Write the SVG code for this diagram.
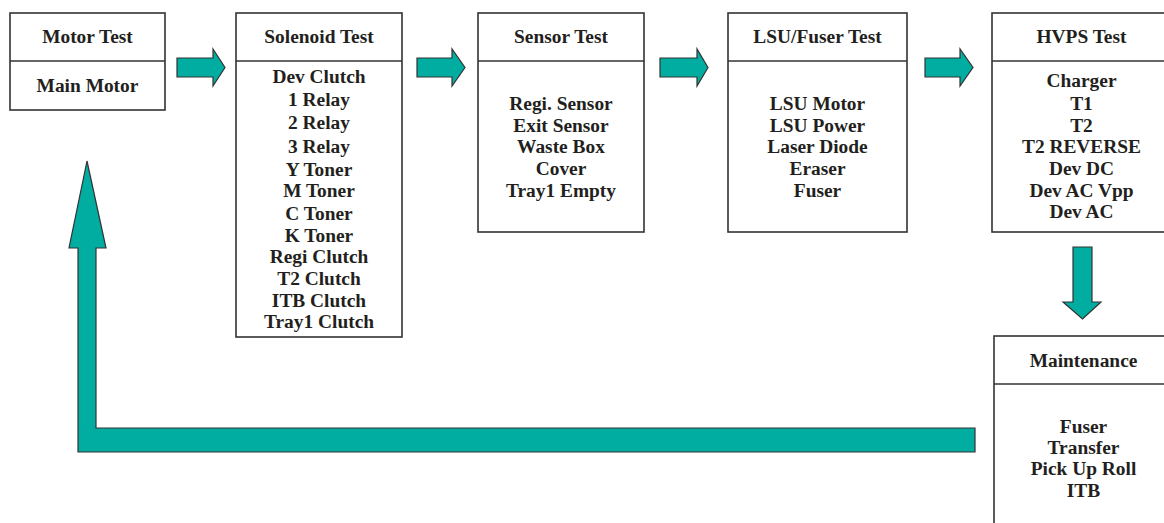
<svg xmlns="http://www.w3.org/2000/svg" width="1164" height="523" viewBox="0 0 1164 523">
<style>
.box{fill:#fff;stroke:#333;stroke-width:1.6}
.div{stroke:#333;stroke-width:1.6}
.t{font-family:"Liberation Serif","Times New Roman",serif;font-weight:bold;font-size:19.4px;fill:#231f20;text-anchor:middle}
.arr{fill:#00ada0;stroke:#333;stroke-width:1.2;stroke-linejoin:miter}
</style>
<rect width="1164" height="523" fill="#fff"/>
<g id="connectors">
<polygon class="arr" points="177,58 213,58 213,49 225,67.5 213,86 213,77 177,77"/>
<polygon class="arr" points="417,58 452,58 452,49 465,67.5 452,86 452,77 417,77"/>
<polygon class="arr" points="660,58 697,58 697,49 708,67.5 697,86 697,77 660,77"/>
<polygon class="arr" points="925,58 960,58 960,49 973,67.5 960,86 960,77 925,77"/>
<polygon class="arr" points="1073,247 1092,247 1092,302 1101,302 1082.5,319 1063,302 1073,302"/>
<polygon class="arr" points="975,428 975,452 78,452 78,248 69,248 87,161 106,248 96,248 96,428"/>
</g>
<g id="motor">
<rect class="box" x="10" y="13" width="155" height="97"/>
<line class="div" x1="10" y1="61" x2="165" y2="61"/>
<text class="t" x="87.5" y="43.3">Motor Test</text>
<text class="t" x="87.5" y="91.7">Main Motor</text>
</g>
<g id="solenoid">
<rect class="box" x="236" y="13" width="166" height="324"/>
<line class="div" x1="236" y1="61" x2="402" y2="61"/>
<text class="t" x="319" y="43.3">Solenoid Test</text>
<text class="t" x="319" y="83">Dev Clutch</text>
<text class="t" x="319" y="106">1 Relay</text>
<text class="t" x="319" y="129">2 Relay</text>
<text class="t" x="319" y="152.5">3 Relay</text>
<text class="t" x="319" y="175.5">Y Toner</text>
<text class="t" x="319" y="197">M Toner</text>
<text class="t" x="319" y="219.5">C Toner</text>
<text class="t" x="319" y="241.5">K Toner</text>
<text class="t" x="319" y="263">Regi Clutch</text>
<text class="t" x="319" y="285">T2 Clutch</text>
<text class="t" x="319" y="306.5">ITB Clutch</text>
<text class="t" x="319" y="327.5">Tray1 Clutch</text>
</g>
<g id="sensor">
<rect class="box" x="478" y="13" width="166" height="219"/>
<line class="div" x1="478" y1="61" x2="644" y2="61"/>
<text class="t" x="561" y="43.3">Sensor Test</text>
<text class="t" x="561" y="110">Regi. Sensor</text>
<text class="t" x="561" y="131.7">Exit Sensor</text>
<text class="t" x="561" y="153">Waste Box</text>
<text class="t" x="561" y="174.5">Cover</text>
<text class="t" x="561" y="196.5">Tray1 Empty</text>
</g>
<g id="lsu">
<rect class="box" x="728" y="13" width="179" height="219"/>
<line class="div" x1="728" y1="61" x2="907" y2="61"/>
<text class="t" x="817.5" y="43.3">LSU/Fuser Test</text>
<text class="t" x="817.5" y="110">LSU Motor</text>
<text class="t" x="817.5" y="131.7">LSU Power</text>
<text class="t" x="817.5" y="153">Laser Diode</text>
<text class="t" x="817.5" y="174.5">Eraser</text>
<text class="t" x="817.5" y="196.5">Fuser</text>
</g>
<g id="hvps">
<rect class="box" x="992" y="13" width="180" height="219"/>
<line class="div" x1="992" y1="61" x2="1172" y2="61"/>
<text class="t" x="1081.5" y="43.3">HVPS Test</text>
<text class="t" x="1081.5" y="87.3">Charger</text>
<text class="t" x="1081.5" y="110">T1</text>
<text class="t" x="1081.5" y="131.7">T2</text>
<text class="t" x="1081.5" y="152.7">T2 REVERSE</text>
<text class="t" x="1081.5" y="175">Dev DC</text>
<text class="t" x="1081.5" y="196.7">Dev AC Vpp</text>
<text class="t" x="1081.5" y="217.5">Dev AC</text>
</g>
<g id="maintenance">
<rect class="box" x="994" y="336" width="180" height="200"/>
<line class="div" x1="994" y1="384" x2="1174" y2="384"/>
<text class="t" x="1083.5" y="366.7">Maintenance</text>
<text class="t" x="1083.5" y="433.3">Fuser</text>
<text class="t" x="1083.5" y="454">Transfer</text>
<text class="t" x="1083.5" y="475">Pick Up Roll</text>
<text class="t" x="1083.5" y="496.5">ITB</text>
</g>
</svg>
